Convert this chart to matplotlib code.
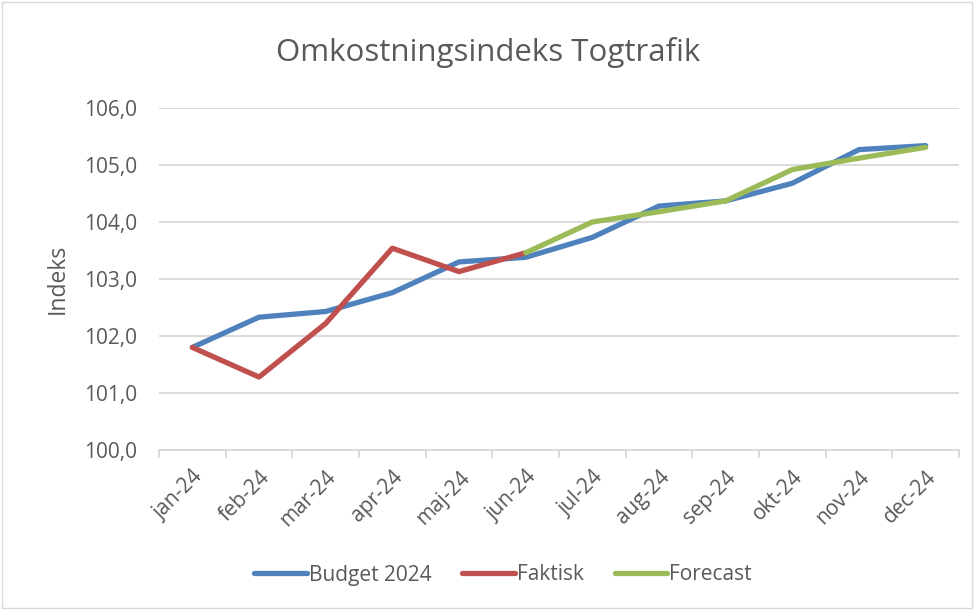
import matplotlib
matplotlib.use("Agg")
import matplotlib.pyplot as plt
from matplotlib.patches import Rectangle
import numpy as np

months = ["jan-24", "feb-24", "mar-24", "apr-24", "maj-24", "jun-24",
          "jul-24", "aug-24", "sep-24", "okt-24", "nov-24", "dec-24"]
budget = [101.80, 102.33, 102.43, 102.76, 103.30, 103.38,
          103.73, 104.28, 104.37, 104.68, 105.27, 105.34]
faktisk = [101.80, 101.28, 102.22, 103.54, 103.13, 103.46]
forecast_months = months[5:]
forecast = [103.46, 104.00, 104.18, 104.37, 104.92, 105.12, 105.31]
yticks = [100, 101, 102, 103, 104, 105, 106]

plt.rcParams['font.family'] = ['Open Sans', 'DejaVu Sans']
txt = '#595959'
grid = '#d9d9d9'

fig = plt.figure(figsize=(9.76, 6.1), dpi=100)
ax = fig.add_axes([159/976, 1-450/610, 800/976, 342/610])

x = np.arange(len(months))
xf = np.arange(5, 5 + len(forecast))
ax.plot(x, budget, color='#4f81bd', lw=3.8, solid_capstyle='round', solid_joinstyle='round', label='Budget 2024', zorder=3)
ax.plot(x[:len(faktisk)], faktisk, color='#c0504d', lw=3.8, solid_capstyle='round', solid_joinstyle='round', label='Faktisk', zorder=4)
ax.plot(xf, forecast, color='#9bbb59', lw=3.8, solid_capstyle='round', solid_joinstyle='round', label='Forecast', zorder=5)

ax.set_xlim(-0.5, 11.5)
ax.set_ylim(100, 106)
ax.set_yticks(yticks)
ax.set_yticklabels([f"{v:.1f}".replace('.', ',') for v in yticks], fontsize=15, color=txt)
ax.yaxis.grid(True, color=grid, lw=1.3)
ax.set_axisbelow(True)
ax.tick_params(axis='y', length=0, pad=16)

ax.set_xticks(x)
ax.set_xticklabels(months, rotation=45, ha='right', va='top', rotation_mode='anchor', fontsize=15, color=txt)
ax.set_xticks(np.arange(-0.5, 12, 1), minor=True)
ax.tick_params(axis='x', which='major', length=0, pad=12)
ax.tick_params(axis='x', which='minor', length=6, width=1.3, color=grid)

for s in ['top', 'right', 'left']:
    ax.spines[s].set_visible(False)
ax.spines['bottom'].set_color(grid)
ax.spines['bottom'].set_linewidth(1.3)

ax.set_ylabel('Indeks', fontsize=16.5, color=txt)
ax.yaxis.set_label_coords(-89/800, 0.5)
fig.text(0.5, 1-53/610, 'Omkostningsindeks Togtrafik', ha='center', va='center', fontsize=22.5, color=txt)

leg = fig.legend(loc='center', bbox_to_anchor=(503/976, 1-575/610), ncol=3, frameon=False,
                 fontsize=15, handlelength=2.5, handletextpad=0.1, columnspacing=1.5)
for t in leg.get_texts():
    t.set_color(txt)

fig.patches.append(Rectangle((0.002, 0.003), 0.994, 0.994, transform=fig.transFigure,
                             fill=False, edgecolor='#d9d9d9', lw=1))

fig.savefig('out.png', dpi=100)
